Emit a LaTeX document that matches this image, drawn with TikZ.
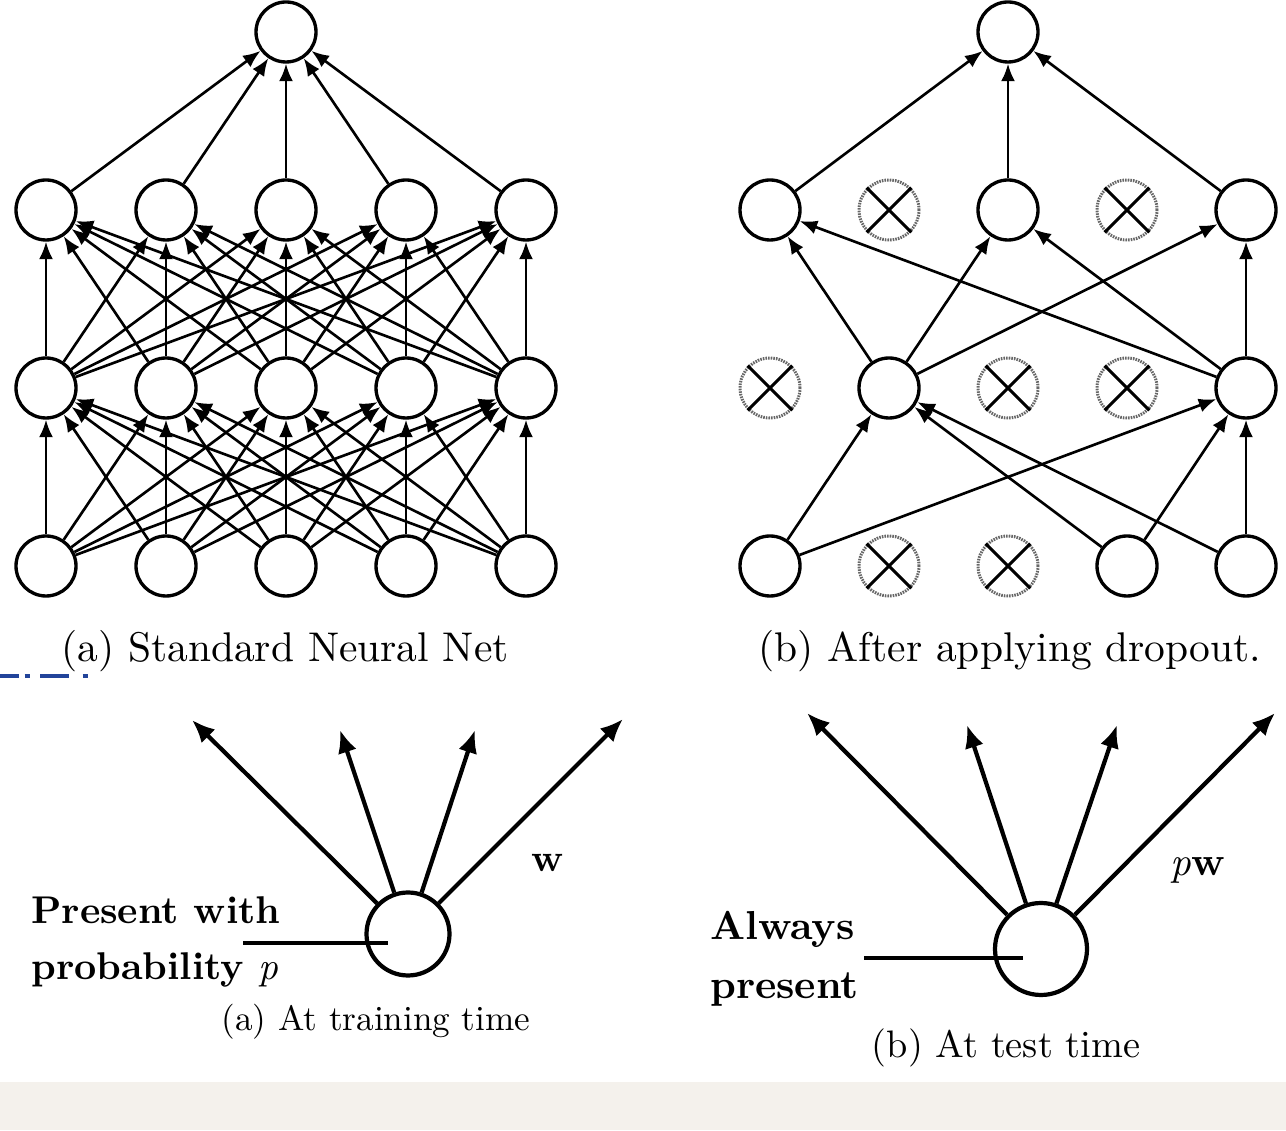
\documentclass[tikz,border=0pt]{standalone}
\usepackage{fontspec}
\setmainfont{lmroman10}[Extension=.otf, UprightFont=*-regular, BoldFont=*-bold, ItalicFont=*-italic, BoldItalicFont=*-bolditalic]
\usetikzlibrary{arrows.meta}
\definecolor{paper}{HTML}{F4F1EC}
\definecolor{linkblue}{HTML}{22449A}

\begin{document}
\begin{tikzpicture}
[draw=black, line width=1.5pt,
unit/.style={circle, draw, line width=1.9pt, inner sep=0pt, minimum size=12mm},
dropped/.style={circle, draw=black!60, line width=1.7pt, dash pattern=on 0.9pt off 0.6pt, inner sep=0pt, minimum size=12mm},
link/.style={-{Latex[length=10pt,width=8pt]}, line width=1.5pt},
bigunit/.style={circle, draw, line width=2.4pt, inner sep=0pt},
spoke/.style={-{Latex[length=13pt,width=11pt]}, line width=2.4pt},
caption/.style={font=\fontsize{23.6}{28}\selectfont},
subcapa/.style={font=\fontsize{20}{24}\selectfont},
subcapb/.style={font=\fontsize{21.8}{26}\selectfont}]

\useasboundingbox (0,0) rectangle (25.72,22.60);
\fill[paper] (0,0) rectangle (25.72,0.96);

% (a) standard net
\node[unit] (ltop) at (5.72,21.96) {};
\foreach \i/\x in {1/0.92,2/3.32,3/5.72,4/8.12,5/10.52} {
  \node[unit] (lhb\i) at (\x,18.40) {};
  \node[unit] (lha\i) at (\x,14.84) {};
  \node[unit] (lin\i) at (\x,11.28) {};
}
\foreach \i in {1,...,5} {
  \draw[link] (lhb\i) -- (ltop);
  \foreach \j in {1,...,5} {
    \draw[link] (lin\i) -- (lha\j);
    \draw[link] (lha\i) -- (lhb\j);
  }
}

% (b) thinned net
\node[unit] (rtop) at (20.16,21.96) {};
\node[unit] (rhb1) at (15.40,18.40) {};
\node[dropped] (rhb2) at (17.78,18.40) {};
\node[unit] (rhb3) at (20.16,18.40) {};
\node[dropped] (rhb4) at (22.54,18.40) {};
\node[unit] (rhb5) at (24.92,18.40) {};
\node[dropped] (rha1) at (15.40,14.84) {};
\node[unit] (rha2) at (17.78,14.84) {};
\node[dropped] (rha3) at (20.16,14.84) {};
\node[dropped] (rha4) at (22.54,14.84) {};
\node[unit] (rha5) at (24.92,14.84) {};
\node[unit] (rin1) at (15.40,11.28) {};
\node[dropped] (rin2) at (17.78,11.28) {};
\node[dropped] (rin3) at (20.16,11.28) {};
\node[unit] (rin4) at (22.54,11.28) {};
\node[unit] (rin5) at (24.92,11.28) {};

\foreach \n in {rhb2,rhb4,rha1,rha3,rha4,rin2,rin3} {
  \draw[line width=1.7pt] (\n.45) -- (\n.225);
  \draw[line width=1.7pt] (\n.135) -- (\n.315);
}
\foreach \s in {rhb1,rhb3,rhb5} \draw[link] (\s) -- (rtop);
\foreach \s in {rha2,rha5} {
  \foreach \t in {rhb1,rhb3,rhb5} \draw[link] (\s) -- (\t);
}
\foreach \s in {rin1,rin4,rin5} {
  \foreach \t in {rha2,rha5} \draw[link] (\s) -- (\t);
}

\node[caption] (capa) at (5.70,9.58) {(a) Standard Neural Net};
\node[caption] (capb) at (20.20,9.58) {(b) After applying dropout.};
\draw[linkblue, line width=2.2pt, dash pattern=on 11pt off 3pt on 3pt off 6pt on 16pt off 8pt on 3.4pt off 20pt] (0,9.08) -- (1.76,9.08);

% training time
\node[bigunit, minimum size=16.6mm] (train) at (8.16,3.92) {};
\coordinate (ta1) at (3.84,8.20);
\coordinate (ta2) at (6.80,8.00);
\coordinate (ta3) at (9.50,8.00);
\coordinate (ta4) at (12.46,8.22);
\foreach \c in {ta1,ta2,ta3,ta4} \draw[spoke] (train) -- (\c);
\coordinate (trin) at (4.86,3.74);
\coordinate (trend) at (7.76,3.74);
\draw[line width=2.4pt] (trin) -- (trend);
\node[anchor=west, align=left, inner sep=0pt, font=\bfseries\fontsize{22}{31.7}\selectfont] (trlabel) at (0.60,3.76) {Present with\\probability \textmd{\textit{p}}};
\node[font=\bfseries\fontsize{22}{26}\selectfont] (wlab) at (10.96,5.34) {w};
\node[subcapa] (capc) at (7.52,2.16) {(a) At training time};

% test time
\node[bigunit, minimum size=18.4mm] (test) at (20.82,3.62) {};
\coordinate (tb1) at (16.14,8.34);
\coordinate (tb2) at (19.34,8.10);
\coordinate (tb3) at (22.34,8.10);
\coordinate (tb4) at (25.50,8.34);
\foreach \c in {tb1,tb2,tb3,tb4} \draw[spoke] (test) -- (\c);
\coordinate (tein) at (17.28,3.44);
\coordinate (teend) at (20.46,3.44);
\draw[line width=2.4pt] (tein) -- (teend);
\node[anchor=west, align=left, inner sep=0pt, font=\bfseries\fontsize{23}{33.4}\selectfont] (telabel) at (14.18,3.43) {Always\\present};
\node[font=\fontsize{23}{27}\selectfont] (pwlab) at (23.96,5.20) {\textit{p}\textbf{w}};
\node[subcapb] (capd) at (20.12,1.64) {(b) At test time};
\end{tikzpicture}
\end{document}
